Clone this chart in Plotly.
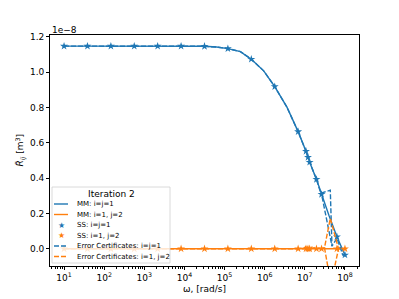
import plotly.graph_objects as go

BLUE = "#1f77b4"
ORANGE = "#ff7f0e"
SCALE = 1e-8

# Model (MM) curves
mm_omega = [1e1, 1e2, 1e3, 1e4, 3.16e4, 6.31e4, 1.21e5, 2.48e5, 4.64e5, 9.44e5,
            1.78e6, 3.61e6, 6.81e6, 1.07e7, 1.32e7, 1.95e7, 2.61e7, 3.98e7, 6.31e7, 1e8]
mm_11 = [1.147, 1.147, 1.147, 1.147, 1.146, 1.142, 1.133, 1.116, 1.073, 1.007,
         0.918, 0.800, 0.663, 0.552, 0.490, 0.393, 0.308, 0.190, 0.068, -0.035]
mm_12 = [0.0] * 20

# State-space (SS) samples
ss_omega = [1e1, 3.83e1, 1.47e2, 5.62e2, 2.15e3, 8.25e3, 3.16e4, 1.21e5, 4.64e5,
            1.78e6, 6.81e6, 1.07e7, 1.20e7, 1.32e7, 1.95e7, 2.61e7, 6.31e7, 1e8]
ss_11 = [1.147, 1.147, 1.147, 1.147, 1.147, 1.147, 1.146, 1.133, 1.073,
         0.918, 0.663, 0.552, 0.518, 0.490, 0.393, 0.308, 0.068, -0.035]
ss_12 = [0.0] * 18

# Error certificates
ec_omega_11 = [1e1, 1e2, 1e3, 1e4, 3.16e4, 6.31e4, 1.21e5, 2.48e5, 4.64e5, 9.44e5,
               1.78e6, 3.61e6, 6.81e6, 1.07e7, 1.32e7, 1.95e7, 2.51e7, 4.31e7, 4.75e7,
               6.31e7, 9.1e7, None, 2.69e7, 4.75e7]
ec_11 = [1.147, 1.147, 1.147, 1.147, 1.146, 1.142, 1.133, 1.116, 1.073, 1.007,
         0.918, 0.800, 0.663, 0.552, 0.490, 0.393, 0.314, 0.332, 0.015,
         0.059, -0.041, None, 0.294, 0.015]
ec_omega_12 = [1e1, 1e2, 1e3, 1e4, 1e5, 1e6, 6.81e6, 9.3e6, 1.12e7, 1.32e7, 1.55e7,
               1.82e7, 2.61e7, 3.09e7, 4.31e7, 6.92e7, 1e8, None, 3.09e7, 4.47e7, 6.92e7]
ec_12 = [0.0, 0.0, 0.0, 0.0, 0.0, 0.0, 0.0, 0.0, 0.018, -0.018, 0.015,
         0.0, 0.0, 0.006, 0.172, 0.0, 0.0, None, 0.006, -0.2, 0.0]

x_tickvals = [1e1, 1e2, 1e3, 1e4, 1e5, 1e6, 1e7, 1e8]
x_ticktext = ["10<sup>1</sup>", "10<sup>2</sup>", "10<sup>3</sup>", "10<sup>4</sup>",
              "10<sup>5</sup>", "10<sup>6</sup>", "10<sup>7</sup>", "10<sup>8</sup>"]
y_tickvals = [0.0, 0.2, 0.4, 0.6, 0.8, 1.0, 1.2]
y_ticktext = ["0.0", "0.2", "0.4", "0.6", "0.8", "1.0", "1.2"]

legend_labels = ["MM: i=j=1", "MM: i=1, j=2", "SS: i=j=1", "SS: i=1, j=2",
                 "Error Certificates: i=j=1", "Error Certificates: i=1, j=2"]


def sc(vals):
    return [None if v is None else v * SCALE for v in vals]


LW = 1.4
DASH = "5px,2px"

fig = go.Figure()
fig.add_trace(go.Scatter(x=mm_omega, y=sc(mm_11), mode="lines",
                         line=dict(color=BLUE, width=LW), showlegend=False))
fig.add_trace(go.Scatter(x=mm_omega, y=sc(mm_12), mode="lines",
                         line=dict(color=ORANGE, width=LW), showlegend=False))
fig.add_trace(go.Scatter(x=ss_omega, y=sc(ss_11), mode="markers",
                         marker=dict(symbol="star", color=BLUE, size=6, line=dict(width=0)),
                         showlegend=False))
fig.add_trace(go.Scatter(x=ss_omega, y=sc(ss_12), mode="markers",
                         marker=dict(symbol="star", color=ORANGE, size=6, line=dict(width=0)),
                         showlegend=False))
fig.add_trace(go.Scatter(x=ec_omega_11, y=sc(ec_11), mode="lines", connectgaps=False,
                         line=dict(color=BLUE, width=LW, dash=DASH), showlegend=False))
fig.add_trace(go.Scatter(x=ec_omega_12, y=sc(ec_12), mode="lines", connectgaps=False,
                         line=dict(color=ORANGE, width=LW, dash=DASH), showlegend=False))

FONT = "DejaVu Sans"

# page body has an 8px margin; screen coordinates below
OFF = 8
W, H = 399 - OFF, 299 - OFF
PL, PR, PT, PB = 50, 359, 35, 266


def px(x):
    return (x - PL) / (PR - PL)


def py(y):
    return (PB - y) / (PB - PT)


shapes = []
annotations = []
# legend box
shapes.append(dict(type="rect", xref="paper", yref="paper", layer="above",
                   x0=px(52), x1=px(170), y0=py(263), y1=py(187),
                   line=dict(color="#d0d0d0", width=0.8),
                   fillcolor="rgba(255,255,255,0.8)"))
annotations.append(dict(text="Iteration 2", xref="paper", yref="paper",
                        x=px(111), y=py(194), showarrow=False,
                        font=dict(family=FONT, size=9, color="black"),
                        xanchor="center", yanchor="middle"))
entry_y = [204, 214.5, 225, 235.5, 246, 256.5]
styles = [(BLUE, "solid"), (ORANGE, "solid"), (BLUE, "star"), (ORANGE, "star"),
          (BLUE, DASH), (ORANGE, DASH)]
for yy, lab, (col, sty) in zip(entry_y, legend_labels, styles):
    if sty == "star":
        annotations.append(dict(text="★", xref="paper", yref="paper", x=px(61), y=py(yy),
                                showarrow=False, font=dict(family=FONT, size=8, color=col),
                                xanchor="center", yanchor="middle"))
    else:
        shapes.append(dict(type="line", xref="paper", yref="paper", layer="above",
                           x0=px(54), x1=px(68), y0=py(yy), y1=py(yy),
                           line=dict(color=col, width=LW, dash=sty)))
    annotations.append(dict(text=lab, xref="paper", yref="paper", x=px(75), y=py(yy),
                            showarrow=False, font=dict(family=FONT, size=7, color="black"),
                            xanchor="left", yanchor="middle"))

annotations.append(dict(text="1e\u22128", xref="paper", yref="paper", x=0, y=py(30),
                        showarrow=False, font=dict(family=FONT, size=9, color="black"),
                        xanchor="left", yanchor="middle"))
annotations.append(dict(text="<i>R\u0303</i><sub><i>ij</i></sub> [m<sup>3</sup>]", xref="paper",
                        yref="paper", x=px(20), y=0.5, textangle=-90, showarrow=False,
                        font=dict(family=FONT, size=9, color="black"),
                        xanchor="center", yanchor="middle"))
annotations.append(dict(text="\u03c9, [rad/s]", xref="paper", yref="paper",
                        x=0.5, y=py(289), showarrow=False,
                        font=dict(family=FONT, size=9, color="black"),
                        xanchor="center", yanchor="middle"))

fig.update_layout(
    width=W, height=H,
    margin=dict(l=PL - OFF, r=W - (PR - OFF), t=PT - OFF, b=H - (PB - OFF), pad=0),
    paper_bgcolor="white", plot_bgcolor="white",
    font=dict(family=FONT, size=9, color="black"),
    shapes=shapes, annotations=annotations, showlegend=False,
)
fig.update_xaxes(type="log", range=[0.65, 8.35], tickmode="array",
                 tickvals=x_tickvals, ticktext=x_ticktext,
                 showgrid=False, zeroline=False, showline=True, mirror=True,
                 linecolor="black", linewidth=0.8, ticks="outside", ticklen=3,
                 tickwidth=0.8, tickcolor="black",
                 minor=dict(ticks="outside", ticklen=2, tickwidth=0.6, tickcolor="black",
                            dtick="D1", showgrid=False))
fig.update_yaxes(range=[-0.0975 * SCALE, 1.21 * SCALE], tickmode="array",
                 tickvals=[v * SCALE for v in y_tickvals], ticktext=y_ticktext,
                 showgrid=False, zeroline=False, showline=True, mirror=True,
                 linecolor="black", linewidth=0.8, ticks="outside", ticklen=3,
                 tickwidth=0.8, tickcolor="black")

fig.write_html("out.html")
